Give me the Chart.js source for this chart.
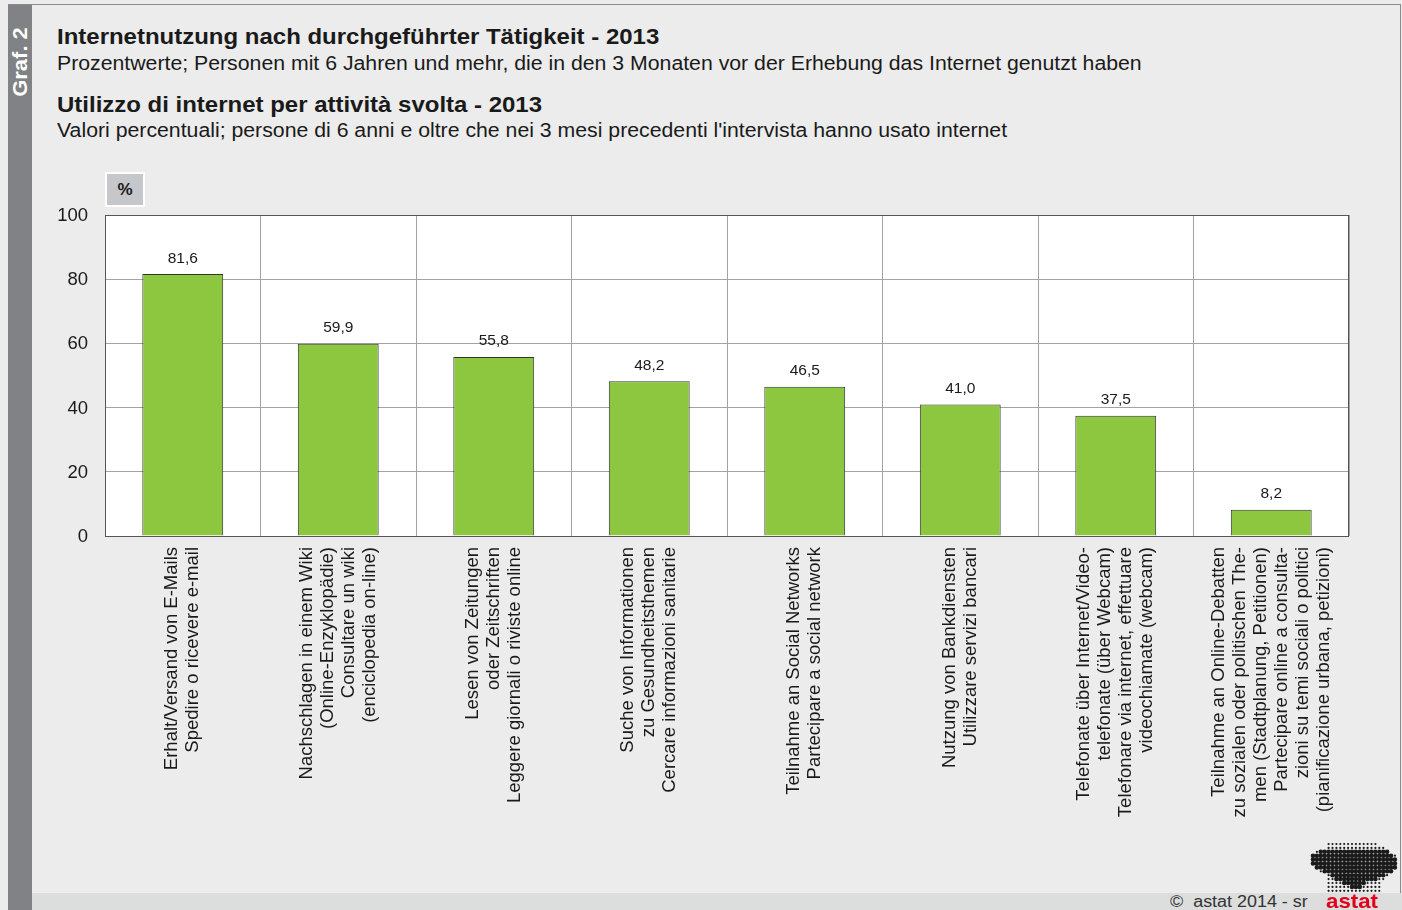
<!DOCTYPE html>
<html>
<head>
<meta charset="utf-8">
<script src="https://cdn.jsdelivr.net/npm/chart.js@4.4.1/dist/chart.umd.min.js"></script>
<style>
  html, body { margin: 0; padding: 0; }
  body { width: 1402px; height: 910px; background: #ebeceb; position: relative; overflow: hidden;
         font-family: "Liberation Sans", Arial, sans-serif; color: #1a1a1a; }
  #chart { position: absolute; left: 0; top: 0; }
  .frameTop { position: absolute; left: 8px; top: 4px; width: 1393px; height: 1px; background: #8a8a8a; }
  .frameRight { position: absolute; left: 1400px; top: 4px; width: 1px; height: 906px; background: #8a8a8a; }
  .strip { position: absolute; left: 8px; top: 5px; width: 24px; height: 905px; background: #808285; }
  .strip span { position: absolute; left: 12px; top: 57px; transform: translate(-50%, -50%) rotate(-90deg) scaleX(1.1);
                color: #fff; font-weight: bold; font-size: 20px; white-space: nowrap; }
  .t { position: absolute; left: 57px; white-space: nowrap; transform: scaleX(1.09); transform-origin: left center; }
  .h { font-weight: bold; font-size: 22px; }
  .s { font-size: 19.5px; }
  .pct { position: absolute; left: 105px; top: 172px; width: 36px; height: 31px; background: #c6c7ca;
         border: 2px solid #fff; font-weight: bold; font-size: 17px; text-align: center; line-height: 31px; }
  .foot { position: absolute; left: 32px; top: 893px; width: 1370px; height: 17px; background: #dcdddd; }
  .copy { position: absolute; left: 1170px; top: 893px; font-size: 16px; color: #333;
          transform: scaleX(1.12); transform-origin: left center; white-space: nowrap; }
  .logoTxt { position: absolute; left: 1326px; top: 889px; font-size: 21px; font-weight: bold; color: #e2001a;
             transform: scaleX(1.06); transform-origin: left center; }
  #logo { position: absolute; left: 1310px; top: 841px; }
</style>
</head>
<body>
<div class="frameTop"></div>
<div class="frameRight"></div>
<div class="strip"><span>Graf. 2</span></div>
<div class="t h" style="top:24px">Internetnutzung nach durchgeführter Tätigkeit - 2013</div>
<div class="t s" style="top:52px">Prozentwerte; Personen mit 6 Jahren und mehr, die in den 3 Monaten vor der Erhebung das Internet genutzt haben</div>
<div class="t h" style="top:92px">Utilizzo di internet per attività svolta - 2013</div>
<div class="t s" style="top:119px">Valori percentuali; persone di 6 anni e oltre che nei 3 mesi precedenti l'intervista hanno usato internet</div>
<div class="pct">%</div>
<canvas id="chart" width="1402" height="910"></canvas>
<div class="foot"></div>
<div class="copy">©&nbsp; astat 2014 - sr</div>
<canvas id="logo" width="88" height="54"></canvas>
<div class="logoTxt">astat</div>
<script>
const categories = [
  ["Erhalt/Versand von E-Mails", "Spedire o ricevere e-mail"],
  ["Nachschlagen in einem Wiki", "(Online-Enzyklopädie)", "Consultare un wiki", "(enciclopedia on-line)"],
  ["Lesen von Zeitungen", "oder Zeitschriften", "Leggere giornali o riviste online"],
  ["Suche von Informationen", "zu Gesundheitsthemen", "Cercare informazioni sanitarie"],
  ["Teilnahme an Social Networks", "Partecipare a social network"],
  ["Nutzung von Bankdiensten", "Utilizzare servizi bancari"],
  ["Telefonate über Internet/Video-", "telefonate (über Webcam)", "Telefonare via internet, effettuare", "videochiamate (webcam)"],
  ["Teilnahme an Online-Debatten", "zu sozialen oder politischen The-", "men (Stadtplanung, Petitionen)", "Partecipare online a consulta-", "zioni su temi sociali o politici", "(pianificazione urbana, petizioni)"]
];
const values = [81.6, 59.9, 55.8, 48.2, 46.5, 41.0, 37.5, 8.2];
const yTicks = [0, 20, 40, 60, 80, 100];

const fmt = v => v.toFixed(1).replace('.', ',');

// weißer Plotbereich + dunkler Rahmen
const plotBg = {
  id: 'plotBg',
  beforeDraw(chart) {
    const a = chart.chartArea, c = chart.ctx;
    c.save();
    c.fillStyle = '#ffffff';
    c.fillRect(a.left, a.top, a.width, a.height);
    c.restore();
  },
  afterDraw(chart) {
    const a = chart.chartArea, c = chart.ctx;
    c.save();
    c.strokeStyle = '#555';
    c.lineWidth = 1;
    c.strokeRect(a.left + 0.5, a.top + 0.5, a.width - 1, a.height);
    c.restore();
  }
};

// Werte über den Balken
const valueLabels = {
  id: 'valueLabels',
  afterDatasetsDraw(chart) {
    const c = chart.ctx;
    const meta = chart.getDatasetMeta(0);
    c.save();
    c.font = '15.5px "Liberation Sans", Arial, sans-serif';
    c.fillStyle = '#1a1a1a';
    c.textAlign = 'center';
    c.textBaseline = 'bottom';
    meta.data.forEach((bar, i) => {
      c.fillText(fmt(values[i]), bar.x, bar.y - 8);
    });
    c.restore();
  }
};

// gedrehte, zentrierte mehrzeilige Achsenbeschriftung
const xLabels = {
  id: 'xLabels',
  afterDraw(chart) {
    const c = chart.ctx;
    const xs = chart.scales.x;
    const lh = 21;
    c.save();
    c.font = '18.5px "Liberation Sans", Arial, sans-serif';
    c.fillStyle = '#1a1a1a';
    c.textAlign = 'right';
    c.textBaseline = 'middle';
    categories.forEach((lines, i) => {
      const x = xs.getPixelForValue(i);
      lines.forEach((line, j) => {
        const lx = x + (j - (lines.length - 1) / 2) * lh;
        c.save();
        c.translate(lx, xs.top + 11);
        c.rotate(-Math.PI / 2);
        c.fillText(line, 0, 0);
        c.restore();
      });
    });
    c.restore();
  }
};

new Chart(document.getElementById('chart'), {
  type: 'bar',
  data: {
    labels: categories.map(l => l.join(' ')),
    datasets: [{
      data: values,
      backgroundColor: '#8dc63f',
      borderColor: '#333333',
      borderWidth: 1,
      borderSkipped: 'bottom',
      barPercentage: 0.52,
      categoryPercentage: 1.0
    }]
  },
  options: {
    responsive: false,
    animation: false,
    layout: { padding: { left: 32, right: 53, top: 215, bottom: 0 } },
    plugins: { legend: { display: false }, tooltip: { enabled: false } },
    scales: {
      y: {
        min: 0, max: 100,
        afterFit(s) { s.width = 73; },
        afterBuildTicks(s) { s.ticks = yTicks.map(v => ({ value: v })); },
        grid: { color: '#a3a3a3', drawTicks: false },
        border: { display: false },
        ticks: { padding: 17, labelOffset: 1, color: '#1a1a1a', font: { size: 18.5, family: '"Liberation Sans", Arial, sans-serif' } }
      },
      x: {
        afterFit(s) { s.height = 374; },
        grid: { color: '#a3a3a3', drawTicks: false, offset: true },
        border: { display: false },
        ticks: { display: false }
      }
    }
  },
  plugins: [plotBg, valueLabels, xLabels]
});

// Logo: Punktraster (X = großer Punkt, o = kleiner Punkt)
const logoRows = [
  "....ooooooooooooo.....",
  "....ooooooooooooooo...",
  ".oXXXXXXXXXXXXXXXXXX..",
  "XXXXXXXXXXXXXXXXXXXXXo",
  "XXXXXXXXXXXXXXXXXXXXXX",
  "XXXXXXXXXXXXXXXXXXXXXX",
  ".XXXXXXXXXXXXXXXXXXXXX",
  "..oXXXXXXXXXXXXXXXXXX.",
  "....oXXXXXXXXXXXXXXo..",
  "....ooXXXXXXXXXXXoo...",
  "....ooooXXXXXXoooo....",
  "....ooooooXXXooooo....",
  "....oooooooooooooo...."
];
const lc = document.getElementById('logo').getContext('2d');
lc.fillStyle = '#1a1a1a';
logoRows.forEach((row, r) => {
  [...row].forEach((ch, k) => {
    if (ch === '.') return;
    lc.beginPath();
    lc.arc(3 + k * 3.9, 3 + r * 3.9, ch === 'X' ? 2.3 : 1.1, 0, Math.PI * 2);
    lc.fill();
  });
});
</script>
</body>
</html>
